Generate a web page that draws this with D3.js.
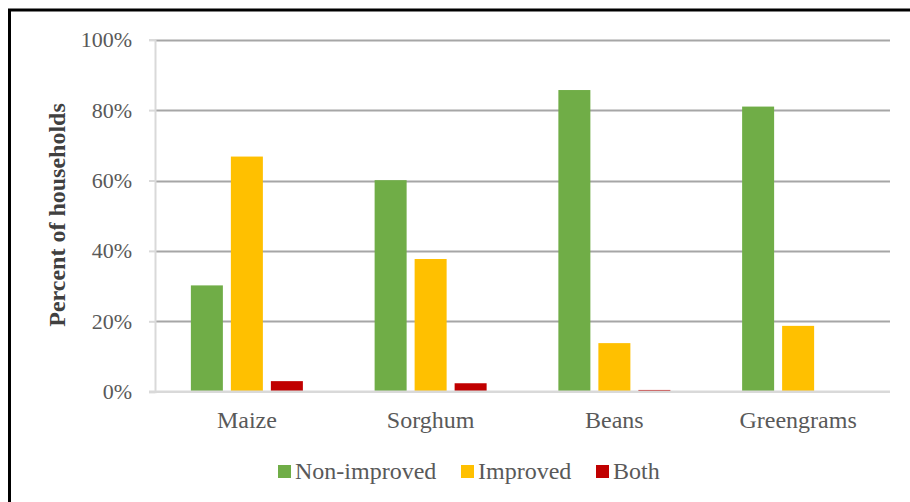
<!DOCTYPE html>
<html><head><meta charset="utf-8">
<script src="https://cdn.jsdelivr.net/npm/d3@7"></script>
<style>html,body{margin:0;padding:0;background:#fff;}svg{display:block;}</style>
</head><body>
<svg id="chart" width="910" height="502"></svg>
<script>
const categories = ["Maize", "Sorghum", "Beans", "Greengrams"];
const seriesNames = ["Non-improved", "Improved", "Both"];
const nonImproved = [30.2, 60.1, 85.7, 81.0];
const improved = [66.8, 37.7, 13.8, 18.7];
const both = [3.0, 2.4, 0.5, 0];
const seriesColors = ["#70AD47", "#FFC000", "#C00000"];
const yTicks = [0, 20, 40, 60, 80, 100];
const values = [nonImproved, improved, both];

const svg = d3.select("#chart");
const font = "'Liberation Serif','Times New Roman',serif";
const plot = {left: 155, right: 890, top: 39.7, bottom: 391.7};

// frame
svg.append("path").attr("d", "M9.5,520 L9.5,10 L920,10")
  .attr("fill", "none").attr("stroke", "#000").attr("stroke-width", 3);

const x = d3.scaleBand().domain(categories).range([plot.left, plot.right]);
const y = d3.scaleLinear().domain([0, 100]).range([plot.bottom, plot.top]);
const xi = d3.scaleBand().domain(seriesNames).range([-56, 56]).paddingInner(0.2);

// gridlines
svg.append("g").selectAll("line").data(yTicks.filter(d => d > 0)).join("line")
  .attr("x1", plot.left).attr("x2", plot.right)
  .attr("y1", d => Math.round(y(d)) + 0.5).attr("y2", d => Math.round(y(d)) + 0.5)
  .attr("stroke", "#A6A6A6").attr("stroke-width", 2);

// y axis
const yAxis = svg.append("g").attr("transform", `translate(${plot.left},0)`)
  .call(d3.axisLeft(y).tickValues(yTicks).tickSize(6).tickPadding(17).tickFormat(d => d + "%"));
yAxis.select(".domain").attr("stroke", "#D9D9D9").attr("stroke-width", 2);
yAxis.selectAll(".tick line").attr("stroke", "#D9D9D9").attr("stroke-width", 2);
yAxis.selectAll("text").attr("font-family", font).attr("font-size", 22).attr("fill", "#595959");

// bars
const g = svg.append("g");
seriesNames.forEach((s, si) => {
  g.append("g").selectAll("rect").data(categories).join("rect")
    .attr("x", c => x(c) + x.bandwidth() / 2 + xi(s))
    .attr("width", xi.bandwidth())
    .attr("y", (c, i) => y(values[si][i]))
    .attr("height", (c, i) => y(0) - y(values[si][i]))
    .attr("fill", seriesColors[si]);
});

// x axis baseline
const xAxis = svg.append("g").attr("transform", `translate(0,${plot.bottom})`)
  .call(d3.axisBottom(x).tickSize(0).tickPadding(19));
xAxis.select(".domain").attr("stroke", "#D9D9D9").attr("stroke-width", 2.5)
  .attr("d", `M${plot.left - 6},0H${plot.right}`);
xAxis.selectAll("text").attr("font-family", font).attr("font-size", 24).attr("fill", "#595959");

// y title
svg.append("text").attr("transform", "translate(65,215) rotate(-90)")
  .attr("text-anchor", "middle").attr("font-family", font).attr("font-size", 24)
  .attr("font-weight", "bold").attr("fill", "#404040").text("Percent of households");

// legend
const legendX = [278, 461, 596];
const lg = svg.append("g");
seriesNames.forEach((s, i) => {
  lg.append("rect").attr("x", legendX[i]).attr("y", 465).attr("width", 13).attr("height", 13)
    .attr("fill", seriesColors[i]);
  lg.append("text").attr("x", legendX[i] + 17).attr("y", 479)
    .attr("font-family", font).attr("font-size", 24).attr("fill", "#595959").text(s);
});
</script>
</body></html>
